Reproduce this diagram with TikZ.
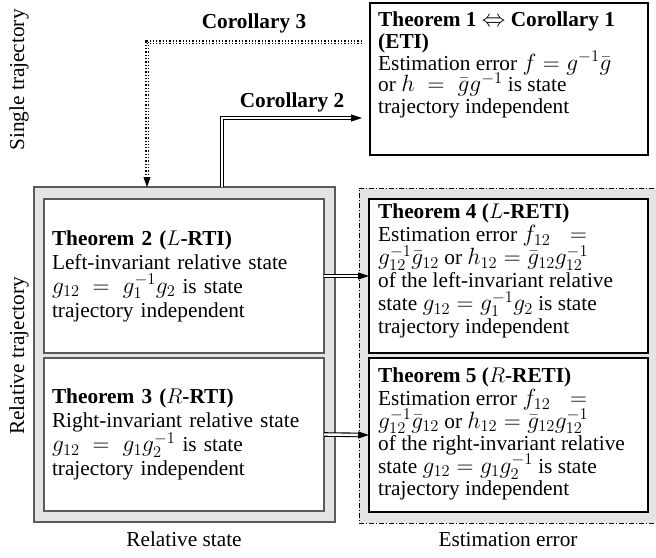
\documentclass[tikz,border=0pt]{standalone}
\usepackage{fix-cm}
\usepackage[no-math]{fontspec}
\setmainfont{Liberation Serif}
\usetikzlibrary{arrows.meta,calc}
\definecolor{boxgray}{HTML}{E4E4E4}
\definecolor{edgegray}{HTML}{5A5A5A}
\newcommand{\fbig}{\fontsize{21.3}{24}\selectfont}
\newcommand{\fone}{\fontsize{21.3}{21.6}\selectfont\lineskiplimit=-30pt\relax}
\newcommand{\ffour}{\fontsize{21.3}{23}\selectfont\lineskiplimit=-30pt\relax}
\newcommand{\ffive}{\fontsize{21.3}{22.6}\selectfont\lineskiplimit=-30pt\relax}
\newcommand{\mm}[1]{{\fontsize{23.5}{24}\selectfont$#1$}}
\begin{document}
\begin{tikzpicture}[x=1pt,y=-1pt,
  region/.style={draw=edgegray, line width=1.6pt, fill=boxgray, anchor=north west, inner sep=0pt, outer sep=0pt},
  errregion/.style={draw=black, line width=0.6pt, dash pattern=on 5pt off 2pt on 1pt off 2pt, fill=boxgray, anchor=north west, inner sep=0pt, outer sep=0pt},
  relbox/.style={draw=edgegray, line width=1.4pt, fill=white, anchor=north west, inner ysep=0pt, inner xsep=8pt, outer sep=0pt, minimum width=280pt, text width=264pt, align=left, font=\fbig},
  thmbox/.style={draw=black, line width=2.2pt, fill=white, anchor=north west, inner sep=0pt, outer sep=0pt},
  boxtext/.style={anchor=north west, inner sep=0pt, align=left},
  lbl/.style={font=\fbig, inner sep=0pt},
  dbl/.style={draw=black, double=white, line width=1.1pt, double distance=2.4pt},
  dotdbl/.style={draw=black, double=white, line width=1.1pt, double distance=1pt, dash pattern=on 1.3pt off 2pt},
  tipline/.style={-{Triangle[length=11pt,width=7pt]}, line width=0.8pt, draw=black}
]
\useasboundingbox (0,0) rectangle (656,557);

% regions
\node[region, minimum width=301pt, minimum height=335pt] (rel) at (34,187) {};
\node[errregion, minimum width=305pt, minimum height=335pt] (err) at (359,188) {};

% boxes
\node[thmbox, minimum width=278pt, minimum height=152pt] (T1) at (370,3) {};
\node[relbox, minimum height=154pt] (T2) at (44,199) {%
\textbf{Theorem 2 ($L$-RTI)}\\
Left-invariant relative state\\
\mm{g_{12}\;=\;g_1^{-1}g_2} is state\\
trajectory independent};
\node[relbox, minimum height=153pt] (T3) at (44,358) {%
\textbf{Theorem 3 ($R$-RTI)}\\
Right-invariant relative state\\
\mm{g_{12}\;=\;g_1g_2^{-1}} is state\\
trajectory independent};
\node[thmbox, minimum width=279pt, minimum height=154pt] (T4) at (369,199) {};
\node[thmbox, minimum width=279pt, minimum height=154pt] (T5) at (369,358) {};

% box texts
\node[boxtext, font=\fone] (T1t) at (378,12) {%
\textbf{Theorem 1 \mm{\Leftrightarrow} Corollary 1}\\
\textbf{(ETI)}\\
Estimation error \mm{f=g^{-1}\bar g}\\
or \mm{h\;=\;\bar g g^{-1}} is state\\
trajectory independent};
\node[boxtext, font=\ffour] (T4t) at (378,204) {%
\textbf{Theorem 4 ($L$-RETI)}\\
Estimation error \mm{f_{12}\;\;=}\\
\mm{g_{12}^{-1}\bar g_{12}} or \mm{h_{12}=\bar g_{12}g_{12}^{-1}}\\
of the left-invariant relative\\
state \mm{g_{12}=g_1^{-1}g_2} is state\\
trajectory independent};
\node[boxtext, font=\ffive] (T5t) at (378,368) {%
\textbf{Theorem 5 ($R$-RETI)}\\
Estimation error \mm{f_{12}\;\;=}\\
\mm{g_{12}^{-1}\bar g_{12}} or \mm{h_{12}=\bar g_{12}g_{12}^{-1}}\\
of the right-invariant relative\\
state \mm{g_{12}=g_1g_2^{-1}} is state\\
trajectory independent};

% side and bottom labels
\node[lbl, rotate=90, anchor=base] (single) at (24,80) {Single trajectory};
\node[lbl, rotate=90, anchor=base] (reltraj) at (24,356) {Relative trajectory};
\node[lbl, anchor=base] (relstate) at (184,546) {Relative state};
\node[lbl, anchor=base] (esterr) at (508,546) {Estimation error};
\node[lbl, anchor=base, font=\fbig\bfseries] (cor3) at (254,28) {Corollary 3};
\node[lbl, anchor=base, font=\fbig\bfseries] (cor2) at (292,107) {Corollary 2};

% Corollary 3 dotted connector
\coordinate (c3s) at (362,42);
\coordinate (c3k) at (147,42);
\coordinate (c3e) at (147,187);
\draw[dotdbl, shorten >=10pt] (c3s) -- (c3k) -- (c3e);
\draw[-{Triangle[length=10pt,width=7pt]}, line width=0.6pt] ($(c3e)+(0,-10)$) -- (c3e);

% Corollary 2 double connector
\coordinate (c2s) at (222,187);
\coordinate (c2k) at (222,118);
\coordinate (c2e) at (362,118);
\draw[dbl, shorten >=10pt] (c2s) -- (c2k) -- (c2e);
\draw[tipline] ($(c2e)+(-11,0)$) -- (c2e);

% Relative state -> estimation error
\draw[dbl, shorten >=10pt] (T2.east) -- (T4.west);
\draw[tipline] ($(T4.west)+(-11,0)$) -- (T4.west);
\draw[dbl, shorten >=10pt] (T3.east) -- (T5.west);
\draw[tipline] ($(T5.west)+(-11,0)$) -- (T5.west);
\end{tikzpicture}
\end{document}
